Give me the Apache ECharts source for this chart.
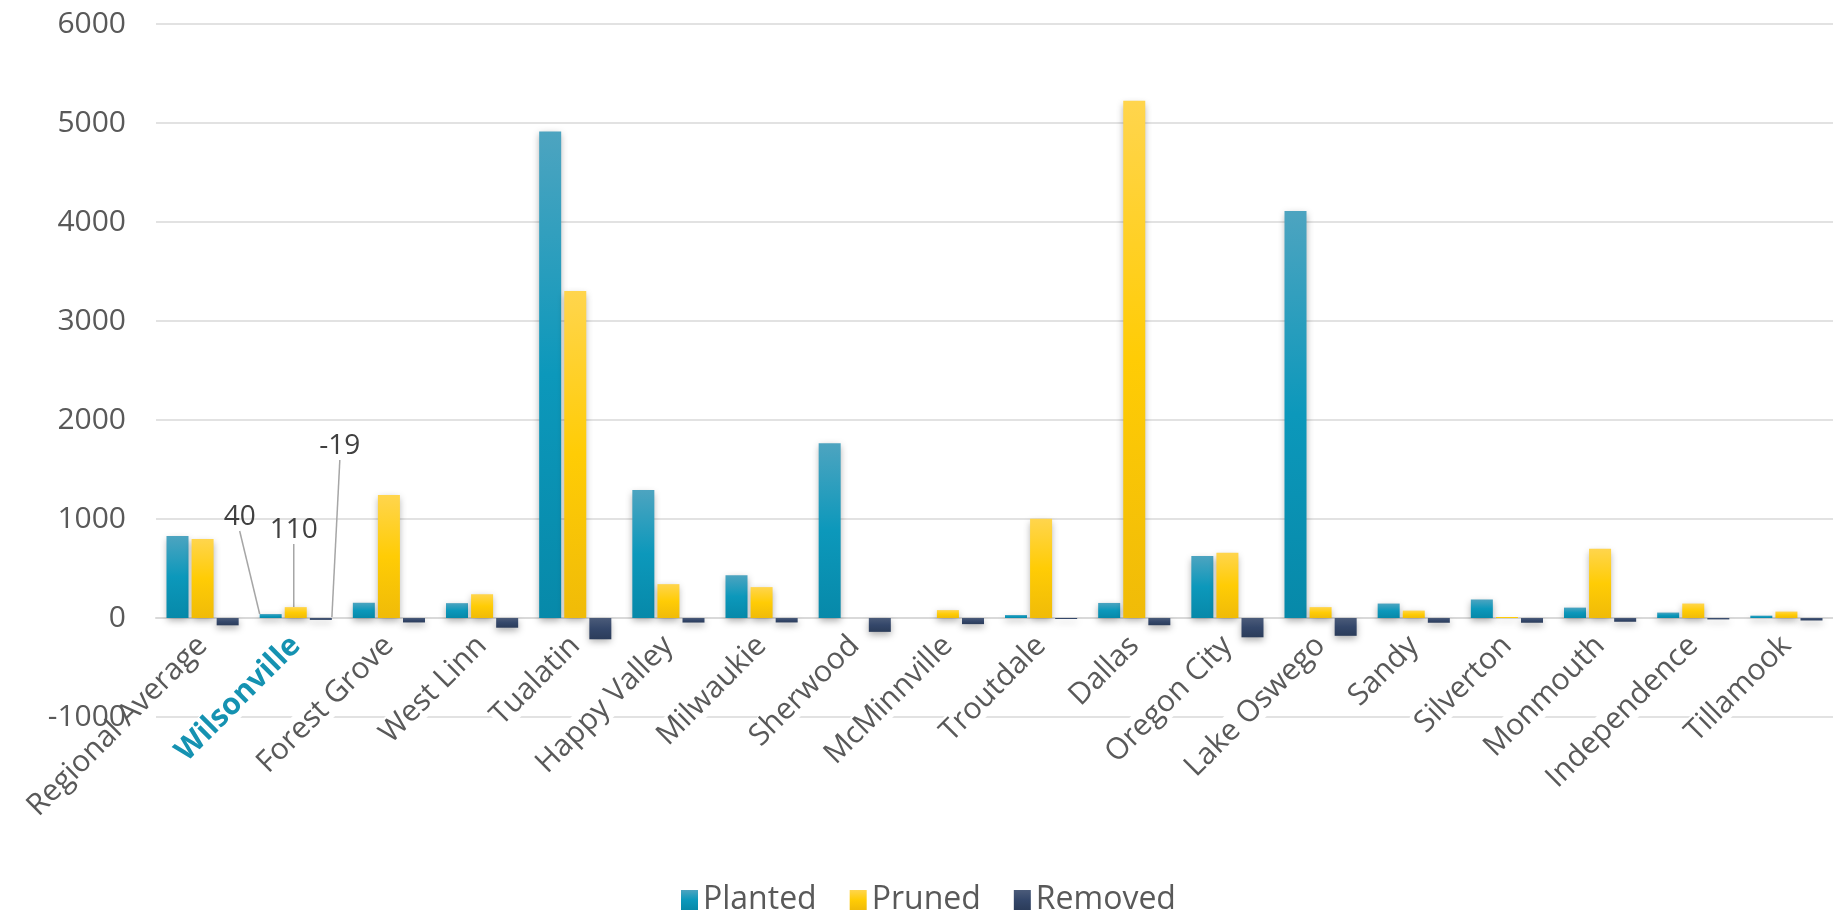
<!DOCTYPE html>
<html>
<head>
<meta charset="utf-8">
<script src="https://cdn.jsdelivr.net/npm/echarts@6/dist/echarts.min.js"></script>
<style>
html,body{margin:0;padding:0;background:#fff;}
#chart{width:1833px;height:913px;}
</style>
</head>
<body>
<div id="chart"></div>
<script>
const categories = ['Regional Average','Wilsonville','Forest Grove','West Linn','Tualatin','Happy Valley','Milwaukie','Sherwood','McMinnville','Troutdale','Dallas','Oregon City','Lake Oswego','Sandy','Silverton','Monmouth','Independence','Tillamook'];
const planted = [829, 40, 154, 150, 4915, 1294, 433, 1765, 0, 30, 152, 627, 4110, 146, 187, 105, 55, 24];
const pruned  = [799, 110, 1242, 240, 3304, 342, 312, 0, 80, 1002, 5224, 660, 110, 75, 10, 699, 146, 65];
const removed = [-74, -19, -45, -98, -215, -46, -45, -140, -62, -10, -73, -195, -180, -48, -48, -38, -14, -25];
const seriesNames = ['Planted','Pruned','Removed'];
const highlightCategory = 'Wilsonville';
const yTicks = {min: -1000, max: 6000, interval: 1000};

const FONT = '"Open Sans", Lato, sans-serif';
const hiIdx = categories.indexOf(highlightCategory);

const CH = 913, GRID_TOP = 24, GRID_BOTTOM = 196;
const gridH = CH - GRID_TOP - GRID_BOTTOM;
// distance from grid bottom (min) up to the zero line
const zeroOffset = gridH * (0 - yTicks.min) / (yTicks.max - yTicks.min);

function grad(top, mid, bot) {
  return new echarts.graphic.LinearGradient(0, 0, 0, 1, [
    {offset: 0, color: top}, {offset: 0.5, color: mid}, {offset: 1, color: bot}
  ]);
}
const colors = [
  grad('#4da4c0', '#0c98bb', '#0789a9'),
  grad('#ffd54d', '#ffcc05', '#f0bb08'),
  grad('#4b5b79', '#34476a', '#2b3c5a')
];
// label offsets for the highlighted annotations (dx, dy)
const annOffsets = [[-31, -78], [-2, -58], [19, -153]];

function mkData(arr) {
  return arr.map((v, i) => i === hiIdx
    ? {value: v, label: {show: true}, labelLine: {show: true}}
    : v);
}

function mkSeries(name, arr, k) {
  return {
    name: name,
    type: 'bar',
    yAxisIndex: 0,
    data: mkData(arr),
    barWidth: 22,
    barGap: '14%',
    itemStyle: {
      color: colors[k],
      shadowBlur: 7,
      shadowColor: 'rgba(0,0,0,0.32)',
      shadowOffsetY: 3
    },
    label: {
      show: false,
      position: 'top',
      fontFamily: FONT,
      fontSize: 28,
      color: '#404040',
      formatter: '{c}'
    },
    labelLine: {
      show: false,
      lineStyle: {color: '#a6a6a6', width: 1.5}
    },
    labelLayout: function (p) {
      if (p.dataIndex === hiIdx) {
        return {dx: annOffsets[k][0], dy: annOffsets[k][1]};
      }
      return {};
    }
  };
}

const chart = echarts.init(document.getElementById('chart'));
chart.setOption({
  backgroundColor: '#ffffff',
  animation: false,
  textStyle: {fontFamily: FONT},
  legend: {
    data: seriesNames,
    left: 676,
    top: 879,
    icon: 'rect',
    itemWidth: 17,
    itemHeight: 20,
    itemGap: 33,
    textStyle: {fontFamily: FONT, fontSize: 32, color: '#595959'}
  },
  grid: {left: 156, right: -8, top: GRID_TOP, bottom: GRID_BOTTOM, containLabel: false},
  xAxis: {
    type: 'category',
    data: categories,
    position: 'bottom',
    offset: -zeroOffset,
    z: 2,
    axisTick: {show: false},
    axisLine: {onZero: false, lineStyle: {color: '#d9d9d9', width: 2}},
    axisLabel: {
      interval: 0,
      rotate: 45,
      margin: 23,
      fontFamily: FONT,
      fontSize: 30,
      color: '#595959',
      backgroundColor: '#ffffff',
      formatter: function (v) { return v === highlightCategory ? '{w|' + v + '}' : v; },
      rich: {
        w: {fontFamily: FONT, fontSize: 30, fontWeight: 'bold', color: '#1592b1', backgroundColor: '#ffffff'}
      }
    }
  },
  yAxis: [
    {
      type: 'value',
      min: yTicks.min,
      max: yTicks.max,
      interval: yTicks.interval,
      z: 0,
      axisLine: {show: false},
      axisTick: {show: false},
      splitLine: {lineStyle: {color: '#d9d9d9', width: 1.5}},
      axisLabel: {show: false}
    },
    {
      type: 'value',
      position: 'left',
      min: yTicks.min,
      max: yTicks.max,
      interval: yTicks.interval,
      z: 10,
      axisLine: {show: false},
      axisTick: {show: false},
      splitLine: {show: false},
      axisLabel: {
        margin: 30, fontFamily: FONT, fontSize: 30, color: '#595959',
        formatter: function (v) { return String(v); }
      }
    }
  ],
  series: [
    mkSeries(seriesNames[0], planted, 0),
    mkSeries(seriesNames[1], pruned, 1),
    mkSeries(seriesNames[2], removed, 2)
  ]
});
</script>
</body>
</html>
